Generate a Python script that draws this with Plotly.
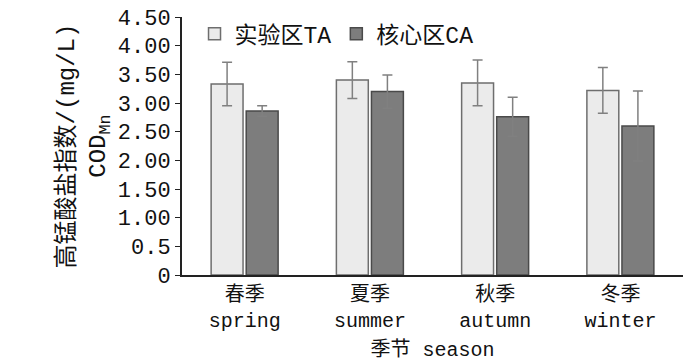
import plotly.graph_objects as go

seasons = ["春季<br>spring", "夏季<br>summer", "秋季<br>autumn", "冬季<br>winter"]
ta_values = [3.33, 3.40, 3.35, 3.22]
ta_err = [0.38, 0.32, 0.40, 0.40]
ca_values = [2.86, 3.20, 2.76, 2.60]
ca_err = [0.09, 0.29, 0.34, 0.61]
y_tickvals = [0, 0.5, 1.0, 1.5, 2.0, 2.5, 3.0, 3.5, 4.0, 4.5]
y_ticktext = ["0", "0.5", "1.00", "1.50", "2.00", "2.50", "3.00", "3.50", "4.00", "4.50"]

FONT = "Liberation Mono, Noto Sans CJK SC"

fig = go.Figure()
fig.add_trace(go.Bar(
    name="实验区TA", x=seasons, y=ta_values,
    marker=dict(color="#ebebeb", line=dict(color="#6e6e6e", width=1.5)),
    error_y=dict(type="data", array=ta_err, color="#808080", thickness=1.5, width=5),
))
fig.add_trace(go.Bar(
    name="核心区CA", x=seasons, y=ca_values,
    marker=dict(color="#7d7d7d", line=dict(color="#4a4a4a", width=1.5)),
    error_y=dict(type="data", array=ca_err, color="#808080", thickness=1.5, width=5),
))

fig.update_layout(
    width=700, height=363,
    margin=dict(l=182, r=17, t=13, b=88),
    paper_bgcolor="white", plot_bgcolor="white",
    font=dict(family=FONT, size=20, color="#111"),
    barmode="group", bargap=0.44, bargroupgap=0.09,
    showlegend=True,
    legend=dict(orientation="h", x=0.025, y=0.935, xanchor="left", yanchor="middle",
                font=dict(size=23), bgcolor="rgba(0,0,0,0)", itemwidth=30),
    xaxis=dict(
        automargin=False,
        showline=True, linecolor="#222", linewidth=2, ticks="",
        tickfont=dict(size=20), range=[-0.5, 3.5],
        title=dict(text="季节 season", font=dict(size=20), standoff=10),
    ),
    yaxis=dict(
        automargin=False,
        range=[0, 4.5], tickvals=y_tickvals, ticktext=y_ticktext,
        showline=True, linecolor="#222", linewidth=2, ticks="outside", ticklen=5,
        tickcolor="#222", showgrid=False, zeroline=False,
        tickfont=dict(size=22),
        title=dict(text="高锰酸盐指数/(mg/L)<br>COD<sub>Mn</sub>", font=dict(size=24), standoff=5),
    ),
)

fig.write_html("out.html", config={"displayModeBar": False},
               post_script="document.body.style.margin='0';")
